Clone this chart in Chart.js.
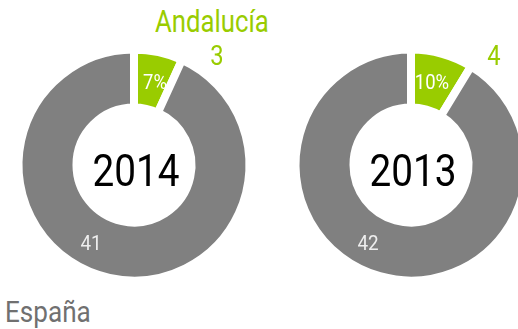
<!DOCTYPE html>
<html>
<head>
<meta charset="utf-8">
<script src="https://cdn.jsdelivr.net/npm/chart.js@4/dist/chart.umd.min.js"></script>
<style>
  html, body { margin: 0; padding: 0; background: #fff; }
  body {
    width: 518px; height: 329px; overflow: hidden; position: relative;
    font-family: Roboto, "Liberation Sans", sans-serif;
  }
  .ring { position: absolute; top: 35px; }
  #c2014 { left: 4px; }
  #c2013 { left: 281px; }
  .caption { position: absolute; white-space: nowrap; line-height: 1; transform-origin: 0 0; }
  #region { left: 155px; top: 6px; color: #99cc00; font-size: 31px; transform: scaleX(0.83); }
  #country { left: 5px; top: 298px; color: #707070; font-size: 29px; transform: scaleX(0.9); }
</style>
</head>
<body>
<div id="region" class="caption"></div>
<canvas id="c2014" class="ring" width="260" height="260"></canvas>
<canvas id="c2013" class="ring" width="260" height="260"></canvas>
<div id="country" class="caption"></div>

<script>
// data
const years = ['2014', '2013'];
const andalucia = [3, 4];
const restoEspana = [41, 42];
const sharePct = ['7%', '10%'];
const regionName = 'Andalucía';
const countryName = 'España';

const GREEN = '#99cc00';
const GRAY = '#808080';
const FONT = 'Roboto, "Liberation Sans", sans-serif';

document.getElementById('region').textContent = regionName;
document.getElementById('country').textContent = countryName;

// narrow text: squeeze horizontally around the anchor point
function squeezedText(ctx, text, x, y, size, color, sx) {
  ctx.save();
  ctx.translate(x, y);
  ctx.scale(sx, 1);
  ctx.font = size + 'px ' + FONT;
  ctx.fillStyle = color;
  ctx.textAlign = 'center';
  ctx.textBaseline = 'middle';
  ctx.fillText(text, 0, 0);
  ctx.restore();
}

// year in the hole, share % inside the green slice, counts around the ring
const ringLabels = {
  id: 'ringLabels',
  afterDatasetsDraw(chart) {
    const i = chart.options.yearIndex;
    const green = chart.getDatasetMeta(0).data[0];
    const cx = green.x, cy = green.y;
    const ctx = chart.ctx;

    squeezedText(ctx, years[i], cx + 2, cy + 10, 44, '#000', 0.88);
    squeezedText(ctx, sharePct[i], cx + 21, cy - 81, 21, '#fff', 0.88);
    squeezedText(ctx, String(restoEspana[i]), cx - 43, cy + 80, 21, '#eeeeee', 0.9);
    squeezedText(ctx, String(andalucia[i]), cx + 83, cy - 107, 27, GREEN, 0.88);
  }
};

function drawRing(i) {
  return new Chart(document.getElementById('c' + years[i]), {
    type: 'doughnut',
    data: {
      labels: [regionName, countryName],
      datasets: [{
        data: [andalucia[i], restoEspana[i]],
        backgroundColor: [GREEN, GRAY],
        borderColor: '#fff',
        borderWidth: 8
      }]
    },
    options: {
      yearIndex: i,
      responsive: false,
      animation: false,
      radius: 115.5,
      cutout: '49.8%',
      plugins: { legend: { display: false }, tooltip: { enabled: false } }
    },
    plugins: [ringLabels]
  });
}

years.forEach((y, i) => drawRing(i));
</script>
</body>
</html>
